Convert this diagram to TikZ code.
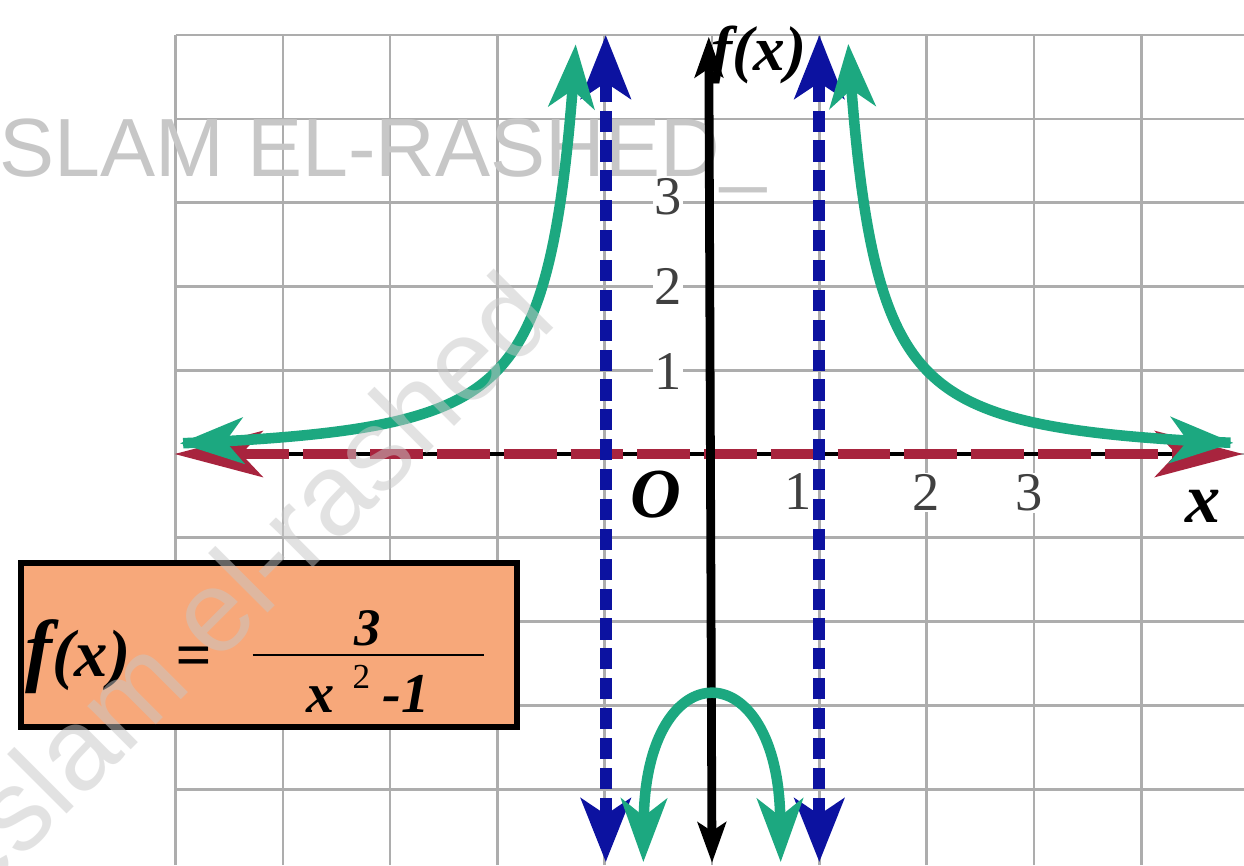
\documentclass[tikz,border=0pt]{standalone}
\usepackage{fontspec}
\setmainfont{Liberation Serif}
\newfontfamily\markfont{Liberation Sans}
\usepackage{tikz}
\usetikzlibrary{arrows.meta,positioning}
\definecolor{curvegreen}{RGB}{28,168,128}
\definecolor{asymblue}{RGB}{12,18,160}
\definecolor{axisred}{RGB}{168,36,62}
\definecolor{boxorange}{RGB}{247,168,122}
\newcommand{\fsz}[1]{\fontsize{#1}{#1}\selectfont}
\tikzset{
  curvetip/.tip={Stealth[length=36pt,width=26pt,inset=10pt]},
  asymtip/.tip={Stealth[length=36pt,width=28pt,inset=9pt]},
  yaxistip/.tip={Stealth[length=23pt,width=16pt,inset=5pt]},
  xaxistip/.tip={Stealth[length=50pt,width=26pt,inset=12pt]},
  gridline/.style={draw=black!32,line width=1.5pt},
  curveline/.style={draw=curvegreen,line width=6pt,curvetip-curvetip},
  asymline/.style={draw=asymblue,line width=7pt,dash pattern=on 12pt off 5pt,asymtip-asymtip},
  yaxisline/.style={draw=black,line width=5pt,yaxistip-yaxistip},
  xaxisbase/.style={draw=black,line width=2pt},
  xaxisline/.style={draw=axisred,line width=6pt,dash pattern=on 30pt off 8pt,xaxistip-xaxistip},
  ticklabel/.style={font=\fsz{31},text=black!75,fill=white,inner sep=1pt},
  axislabel/.style={font=\fsz{40}\bfseries\itshape},
  formulabox/.style={draw=black,line width=3pt,fill=boxorange,minimum width=9.92cm,
    minimum height=3.28cm,inner sep=0pt},
  watermark/.style={text=black!22,font=\markfont\fsz{47}}
}

\begin{document}
\begin{tikzpicture}[x=2.146cm,y=1.676cm]
  \useasboundingbox (-6.636,-4.905) rectangle (4.958,5.418);
  \fill[white] (-6.636,-4.905) rectangle (4.958,5.418);
  % grid
  \foreach \gx in {-5,...,4}
    \draw[gridline] (\gx,-4.905) -- (\gx,5);
  \foreach \gy in {-4,...,5}
    \draw[gridline] (-5,\gy) -- (4.958,\gy);
  \node[watermark,anchor=base west] (markh) at (-7.21,3.31) {ESLAM EL-RASHED\_};
  % labels
  \node[ticklabel] (ylab3) at (-0.41,3.07) {3};
  \node[ticklabel] (ylab2) at (-0.41,2.0) {2};
  \node[ticklabel] (ylab1) at (-0.41,0.98) {1};
  \node[axislabel,fill=white,inner sep=1pt] (orig) at (-0.52,-0.48) {O};
  \node[ticklabel] (xlab1) at (0.80,-0.45) {1};
  \node[ticklabel] (xlab2) at (2.0,-0.46) {2};
  \node[ticklabel] (xlab3) at (2.954,-0.46) {3};
  \node[axislabel] (xname) at (4.58,-0.63) {x};
  \node[axislabel,font=\fsz{36}\bfseries\itshape] (yname) at (0.44,4.76) {f(x)};
  % axes
  \draw[xaxisbase] (-4.9,0) -- (4.85,0);
  \draw[xaxisline] (-5.01,0) -- (4.95,0);
  \draw[yaxisline] (0,-4.88) -- (-0.03,4.98);
  % asymptotes
  \draw[asymline] (-0.99,-4.87) -- (-0.99,5.0);
  \draw[asymline] (1.0,-4.87) -- (1.0,5.0);
  % graph
  \draw[curveline] plot[domain=-4.96:-1.27,samples=120,smooth] (\x,{3/(\x*\x-1)});
  \draw[curveline] plot[domain=1.27:4.86,samples=120,smooth] (\x,{3/(\x*\x-1)});
  \draw[curveline] (-0.64,-4.87) .. controls (-0.62,-2.34) and (0.62,-2.34) .. (0.64,-4.87);
  % formula
  \node[formulabox] (fbox) at (-4.129,-2.279) {};
  \node[anchor=base west,inner sep=0pt,font=\bfseries\itshape] (flhs) at (-6.40,-2.65)
    {{\fsz{46}f}{\fsz{38}(x)}\hspace{0.9cm}{\fsz{36}=}};
  \node[font=\fsz{30}\bfseries\itshape,align=center,inner sep=0pt] (ffrac) at (-3.206,-2.48)
    {3\\[-24pt]\rule{4.62cm}{1.2pt}\\[2pt]{\fsz{32}x}\hspace{10pt}\raisebox{14pt}{\fsz{20}\mdseries\upshape 2}\hspace{7pt}{\fsz{32}-1}};
  \node[watermark,font=\markfont\fsz{66},rotate=45,opacity=0.5] (markd) at (-4.42,-1.56)
    {eslam el-rashed};
\end{tikzpicture}
\end{document}
